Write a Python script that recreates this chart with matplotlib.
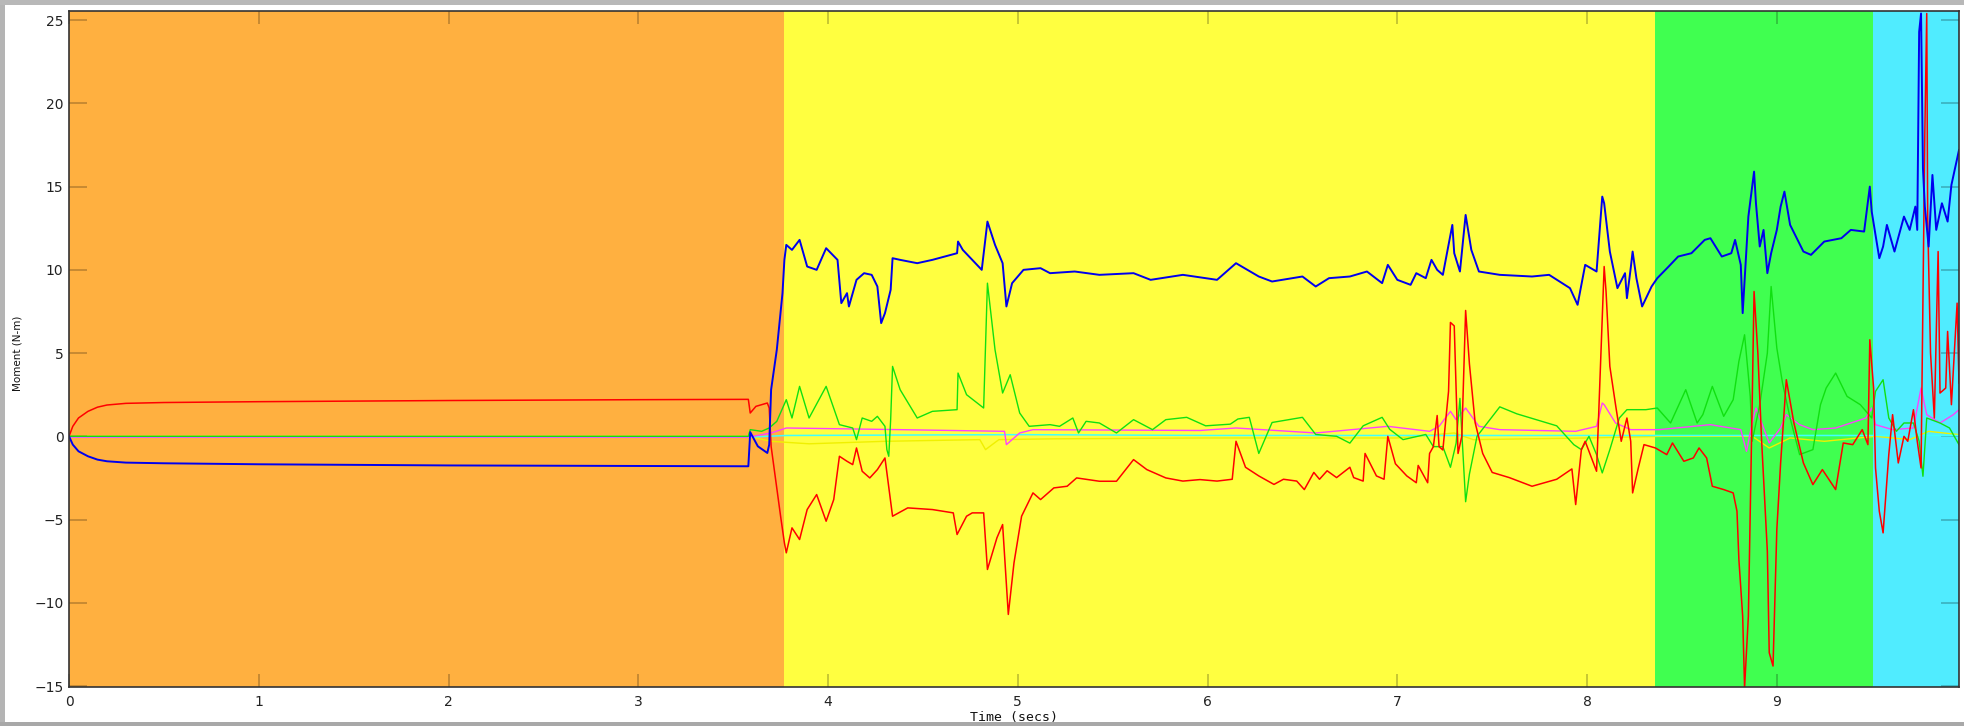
import matplotlib
matplotlib.use("Agg")
import matplotlib.pyplot as plt
from matplotlib.patches import Rectangle

# phase bands (start, end, colour)
phase_start = [0.0, 3.77, 8.36, 9.505]
phase_end = [3.77, 8.36, 9.505, 9.96]
phase_color = ["#ffb040", "#ffff40", "#40ff50", "#50ecff"]

# blue moment
blue_t = [0.00, 0.02, 0.05, 0.10, 0.15, 0.20, 0.30, 0.50, 1.00, 2.00, 3.00, 3.58,
          3.59, 3.63, 3.68, 3.69, 3.70, 3.73, 3.76, 3.77, 3.78, 3.81, 3.85, 3.89,
          3.94, 3.99, 4.05, 4.07, 4.10, 4.11, 4.15, 4.19, 4.23, 4.26, 4.28, 4.30,
          4.33, 4.34, 4.38, 4.47, 4.55, 4.68, 4.685, 4.71, 4.81, 4.84, 4.88, 4.92,
          4.94, 4.97, 5.03, 5.12, 5.17, 5.30, 5.43, 5.61, 5.70, 5.87, 6.05, 6.15,
          6.27, 6.34, 6.50, 6.57, 6.64, 6.75, 6.84, 6.92, 6.95, 7.00, 7.07, 7.10,
          7.15, 7.18, 7.21, 7.24, 7.29, 7.30, 7.33, 7.36, 7.39, 7.43, 7.54, 7.71,
          7.80, 7.91, 7.95, 7.99, 8.05, 8.08, 8.09, 8.12, 8.16, 8.20, 8.21, 8.23,
          8.24, 8.26, 8.29, 8.34, 8.37, 8.43, 8.48, 8.55, 8.62, 8.65, 8.71, 8.76,
          8.78, 8.81, 8.82, 8.85, 8.88, 8.89, 8.91, 8.93, 8.95, 8.97, 9.00, 9.02,
          9.04, 9.07, 9.14, 9.18, 9.25, 9.34, 9.39, 9.46, 9.49, 9.50, 9.54, 9.56,
          9.58, 9.62, 9.67, 9.70, 9.73, 9.74, 9.75, 9.76, 9.77, 9.78, 9.80, 9.82,
          9.84, 9.87, 9.90, 9.92, 9.96]
blue_y = [0.0, -0.5, -0.9, -1.2, -1.4, -1.5, -1.58, -1.62, -1.68, -1.75, -1.78, -1.8,
          0.25, -0.6, -1.0, -0.5, 2.8, 5.2, 8.6, 10.6, 11.5, 11.2, 11.8, 10.2,
          10.0, 11.3, 10.6, 8.0, 8.6, 7.8, 9.4, 9.8, 9.7, 9.0, 6.8, 7.4,
          8.8, 10.7, 10.6, 10.4, 10.6, 11.0, 11.7, 11.2, 10.0, 12.9, 11.5, 10.4,
          7.8, 9.2, 10.0, 10.1, 9.8, 9.9, 9.7, 9.8, 9.4, 9.7, 9.4, 10.4,
          9.6, 9.3, 9.6, 9.0, 9.5, 9.6, 9.9, 9.2, 10.3, 9.4, 9.1, 9.8,
          9.5, 10.6, 10.0, 9.7, 12.7, 11.0, 9.9, 13.3, 11.2, 9.9, 9.7, 9.6,
          9.7, 8.9, 7.9, 10.3, 9.9, 14.4, 14.0, 11.1, 8.9, 9.8, 8.3, 10.1,
          11.1, 9.5, 7.8, 9.0, 9.5, 10.2, 10.8, 11.0, 11.8, 11.9, 10.8, 11.0,
          11.8, 10.3, 7.4, 13.2, 15.9, 14.0, 11.4, 12.4, 9.8, 11.0, 12.4, 13.8,
          14.7, 12.7, 11.1, 10.9, 11.7, 11.9, 12.4, 12.3, 15.0, 13.5, 10.7, 11.4,
          12.7, 11.1, 13.2, 12.4, 13.8, 12.4, 24.3, 25.4, 16.1, 13.8, 11.4, 15.7,
          12.4, 14.0, 12.9, 15.1, 17.2]

# red moment
red_t = [0.00, 0.02, 0.05, 0.10, 0.15, 0.20, 0.30, 0.50, 1.00, 2.00, 3.00, 3.58,
         3.59, 3.62, 3.68, 3.69, 3.70, 3.75, 3.77, 3.78, 3.81, 3.85, 3.89, 3.94,
         3.99, 4.03, 4.06, 4.10, 4.13, 4.15, 4.18, 4.22, 4.26, 4.30, 4.34, 4.42,
         4.55, 4.66, 4.68, 4.73, 4.76, 4.82, 4.84, 4.89, 4.92, 4.95, 4.98, 5.02,
         5.08, 5.12, 5.19, 5.26, 5.31, 5.43, 5.52, 5.61, 5.68, 5.78, 5.87, 5.96,
         6.05, 6.13, 6.15, 6.20, 6.27, 6.35, 6.40, 6.47, 6.51, 6.56, 6.59, 6.63,
         6.68, 6.75, 6.77, 6.82, 6.83, 6.89, 6.93, 6.95, 6.99, 7.05, 7.10, 7.11,
         7.16, 7.17, 7.19, 7.21, 7.22, 7.24, 7.27, 7.28, 7.30, 7.32, 7.34, 7.36,
         7.38, 7.41, 7.45, 7.50, 7.59, 7.71, 7.84, 7.92, 7.94, 7.97, 7.99, 8.05,
         8.08, 8.09, 8.10, 8.12, 8.15, 8.18, 8.21, 8.23, 8.24, 8.27, 8.30, 8.36,
         8.42, 8.45, 8.51, 8.56, 8.59, 8.63, 8.66, 8.72, 8.77, 8.79, 8.80, 8.82,
         8.83, 8.85, 8.87, 8.88, 8.90, 8.92, 8.95, 8.96, 8.98, 9.00, 9.02, 9.05,
         9.09, 9.14, 9.19, 9.24, 9.31, 9.35, 9.40, 9.45, 9.48, 9.49, 9.51, 9.52,
         9.54, 9.56, 9.59, 9.61, 9.64, 9.67, 9.69, 9.72, 9.74, 9.76, 9.78, 9.79,
         9.795, 9.81, 9.83, 9.85, 9.86, 9.89, 9.90, 9.92, 9.95, 9.96]
red_y = [0.0, 0.6, 1.1, 1.5, 1.75, 1.88, 1.98, 2.03, 2.08, 2.15, 2.2, 2.22,
         1.4, 1.8, 2.0, 1.7, -0.6, -4.8, -6.4, -7.0, -5.5, -6.2, -4.4, -3.5,
         -5.1, -3.8, -1.2, -1.5, -1.7, -0.7, -2.1, -2.5, -2.0, -1.3, -4.8, -4.3,
         -4.4, -4.6, -5.9, -4.8, -4.6, -4.6, -8.0, -6.1, -5.3, -10.7, -7.6, -4.8,
         -3.4, -3.8, -3.1, -3.0, -2.5, -2.7, -2.7, -1.4, -2.0, -2.5, -2.69, -2.6,
         -2.69, -2.58, -0.3, -1.86, -2.38, -2.89, -2.58, -2.69, -3.2, -2.17, -2.58, -2.07,
         -2.48, -1.86, -2.48, -2.69, -1.03, -2.38, -2.58, 0.0, -1.65, -2.38, -2.79, -1.75,
         -2.79, -1.03, -0.62, 1.25, -0.62, -0.82, 2.7, 6.84, 6.63, -1.03, 0.0, 7.56,
         4.35, 0.83, -1.03, -2.17, -2.48, -3.0, -2.58, -1.96, -4.1, -0.8, -0.3, -2.1,
         7.1, 10.2, 8.7, 4.2, 1.9, -0.3, 1.1, -0.3, -3.4, -1.9, -0.5, -0.7,
         -1.1, -0.4, -1.5, -1.3, -0.7, -1.3, -3.0, -3.2, -3.4, -4.5, -7.4, -10.8,
         -15.1, -10.8, 1.9, 8.7, 5.0, -0.3, -6.9, -13.0, -13.8, -5.6, -1.6, 3.4,
         0.8, -1.6, -2.9, -2.0, -3.2, -0.4, -0.5, 0.4, -0.5, 5.8, 2.9, -1.9,
         -4.5, -5.8, -1.1, 1.3, -1.6, 0.0, -0.3, 1.6, -0.3, -1.9, 18.3, 25.4,
         13.0, 5.0, 1.1, 11.1, 2.6, 2.9, 6.3, 1.9, 8.0, 3.2]

# green moment
green_t = [0.00, 3.58, 3.59, 3.65, 3.69, 3.73, 3.78, 3.81, 3.85, 3.90, 3.99, 4.06,
           4.13, 4.15, 4.18, 4.23, 4.26, 4.30, 4.31, 4.32, 4.33, 4.34, 4.38, 4.47,
           4.55, 4.68, 4.685, 4.73, 4.82, 4.84, 4.88, 4.92, 4.96, 5.01, 5.06, 5.17,
           5.22, 5.29, 5.32, 5.36, 5.43, 5.52, 5.61, 5.71, 5.78, 5.89, 5.99, 6.12,
           6.16, 6.22, 6.27, 6.34, 6.50, 6.57, 6.68, 6.75, 6.82, 6.92, 6.96, 7.03,
           7.15, 7.19, 7.24, 7.28, 7.31, 7.33, 7.36, 7.38, 7.42, 7.54, 7.63, 7.84,
           7.93, 7.97, 8.01, 8.05, 8.08, 8.12, 8.17, 8.21, 8.31, 8.37, 8.44, 8.52,
           8.58, 8.61, 8.66, 8.72, 8.77, 8.80, 8.83, 8.86, 8.87, 8.91, 8.95, 8.97,
           9.00, 9.03, 9.07, 9.12, 9.19, 9.23, 9.26, 9.31, 9.37, 9.44, 9.50, 9.52,
           9.56, 9.59, 9.63, 9.67, 9.72, 9.75, 9.77, 9.79, 9.86, 9.91, 9.96]
green_y = [0.0, 0.0, 0.4, 0.3, 0.5, 0.9, 2.2, 1.1, 3.0, 1.1, 3.0, 0.7,
           0.5, -0.2, 1.1, 0.9, 1.2, 0.6, -0.8, -1.2, 1.0, 4.2, 2.8, 1.1,
           1.5, 1.6, 3.8, 2.5, 1.7, 9.2, 5.2, 2.6, 3.7, 1.4, 0.6, 0.7,
           0.6, 1.1, 0.2, 0.9, 0.8, 0.2, 1.0, 0.4, 1.0, 1.14, 0.63, 0.73,
           1.04, 1.14, -1.03, 0.83, 1.14, 0.11, 0.0, -0.41, 0.63, 1.14, 0.42, -0.2,
           0.11, -0.62, -0.62, -1.86, -0.41, 2.28, -3.93, -2.27, 0.0, 1.77, 1.35, 0.63,
           -0.5, -0.8, 0.0, -1.1, -2.2, -0.8, 1.1, 1.6, 1.6, 1.7, 0.8, 2.8,
           0.8, 1.3, 3.0, 1.2, 2.2, 4.5, 6.1, 2.4, -0.3, 1.9, 5.0, 9.0,
           5.3, 3.2, 1.1, -1.1, -0.8, 1.9, 2.9, 3.8, 2.4, 1.9, 1.1, 2.7,
           3.4, 1.1, 0.3, 0.8, 0.8, -0.3, -2.4, 1.1, 0.8, 0.5, -0.5]

# magenta moment
magenta_t = [0.00, 3.58, 3.70, 3.78, 4.38, 4.93, 4.94, 5.01, 5.08, 5.96, 6.15, 6.57,
             6.95, 7.17, 7.22, 7.28, 7.31, 7.36, 7.43, 7.54, 7.94, 8.05, 8.08, 8.09,
             8.15, 8.23, 8.38, 8.65, 8.81, 8.84, 8.87, 8.89, 8.93, 8.96, 9.02, 9.05,
             9.12, 9.19, 9.31, 9.47, 9.50, 9.52, 9.61, 9.72, 9.76, 9.79, 9.86, 9.93,
             9.96]
magenta_y = [-0.05, -0.05, 0.2, 0.5, 0.4, 0.3, -0.5, 0.2, 0.4, 0.35, 0.5, 0.2,
             0.6, 0.3, 0.6, 1.5, 1.0, 1.7, 0.6, 0.4, 0.3, 0.6, 2.0, 1.9,
             0.8, 0.4, 0.4, 0.7, 0.4, -0.9, 0.8, 1.7, 0.5, -0.4, 0.5, 1.3,
             0.7, 0.4, 0.5, 1.1, 1.7, 0.7, 0.4, 0.5, 2.9, 1.3, 0.8, 1.3,
             1.6]

# yellow moment
yellow_t = [0.00, 3.58, 3.70, 3.90, 4.30, 4.80, 4.83, 4.90, 5.20, 6.00, 7.00, 7.30,
            7.40, 8.00, 8.40, 8.87, 8.96, 9.07, 9.25, 9.52, 9.70, 9.80, 9.96]
yellow_y = [0.0, 0.0, -0.3, -0.45, -0.3, -0.2, -0.8, -0.2, -0.15, -0.1, -0.1, 0.2,
            -0.2, -0.1, 0.0, 0.0, -0.7, -0.1, -0.3, 0.0, -0.2, 0.3, 0.1]

# cyan moment
cyan_t = [0.00, 3.58, 3.78, 5.00, 6.00, 7.00, 8.00, 9.00, 9.96]
cyan_y = [-0.05, -0.05, 0.05, 0.1, 0.05, 0.05, 0.05, 0.05, 0.05]

series = [
    (yellow_t, yellow_y, "#f0f000", 1.0),
    (cyan_t, cyan_y, "#40ffff", 1.1),
    (magenta_t, magenta_y, "#ff40ff", 1.0),
    (green_t, green_y, "#10e010", 1.0),
    (red_t, red_y, "#ff0000", 1.1),
    (blue_t, blue_y, "#0000ee", 1.4),
]

W, H = 1964, 726
fig = plt.figure(figsize=(W / 100, H / 100), dpi=100)
fig.patch.set_facecolor("white")

ax = fig.add_axes([69 / W, 1 - 687 / H, (1959 - 69) / W, (687 - 11) / H])
for s, e, c in zip(phase_start, phase_end, phase_color):
    ax.axvspan(s, e, color=c, lw=0, zorder=0)

for t, y, c, lw in series:
    ax.plot(t, y, color=c, lw=lw, zorder=2)

ax.set_xlim(0, 9.96)
ax.set_ylim(-15.06, 25.55)
ax.set_xticks(range(0, 10))
ax.set_yticks(range(-15, 26, 5))
ax.tick_params(axis="both", direction="in", color=(0, 0, 0, 0.22), width=1.4,
               labelsize=10, labelcolor="#222222", top=True, right=True)
ax.tick_params(axis="x", length=9.5, pad=6)
ax.tick_params(axis="y", length=13, pad=4)
for sp in ax.spines.values():
    sp.set_color("#333333")
    sp.set_linewidth(1.2)

fig.text(1014 / W, 1 - 717 / H, "Time (secs)", ha="center", va="center",
         fontsize=9.5, family="DejaVu Sans Mono", color="#111111")
fig.text(18 / W, 1 - 353 / H, "Moment (N-m)", ha="center", va="center",
         rotation=90, fontsize=7.5, color="#111111")

# window frame shadow of the screenshot
fig.patches.append(Rectangle((0, 0), 5 / W, 1, transform=fig.transFigure,
                             color="#b4b4b4", lw=0, zorder=-1))
fig.patches.append(Rectangle((0, 1 - 5 / H), 1, 5 / H, transform=fig.transFigure,
                             color="#b8b8b8", lw=0, zorder=-1))
fig.patches.append(Rectangle((0, 0), 1, 4 / H, transform=fig.transFigure,
                             color="#a8a8a8", lw=0, zorder=-1))

fig.savefig("out.png", dpi=100)
